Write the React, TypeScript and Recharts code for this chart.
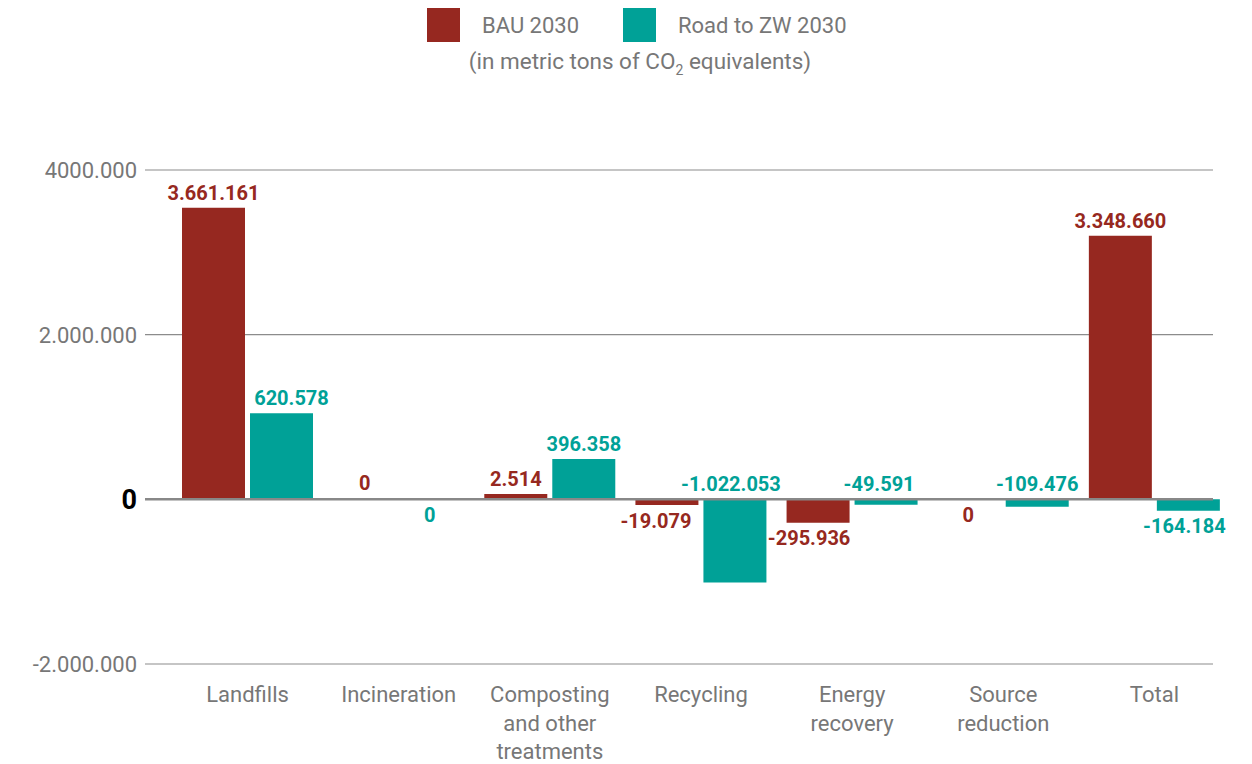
import { BarChart, Bar, XAxis, YAxis, CartesianGrid, LabelList, ReferenceLine } from "recharts";

const CATEGORIES = ["Landfills", "Incineration", "Composting\nand other\ntreatments", "Recycling", "Energy\nrecovery", "Source\nreduction", "Total"];
const BAU_2030 = [3540000, 0, 65000, -70000, -285000, 0, 3200000];
const ZW_2030 = [1045000, 0, 490000, -1010000, -65000, -90000, -140000];
const BAU_LABELS = ["3.661.161", "0", "2.514", "-19.079", "-295.936", "0", "3.348.660"];
const ZW_LABELS = ["620.578", "0", "396.358", "-1.022.053", "-49.591", "-109.476", "-164.184"];
const Y_TICKS = [-2000000, 0, 2000000, 4000000];
const Y_TICK_LABELS = ["-2.000.000", "0", "2.000.000", "4000.000"];

// where each value label sits relative to its bar
const BAU_SIDE = ["top", "top", "top", "bottom", "bottom", "bottom", "top"];
const ZW_SIDE = ["top", "bottom", "top", "top", "top", "top", "bottom"];
const BAU_DX = [0, 0, 0, -11, -9, -1, 0];
const ZW_DX = [10, -3, 0, -4, -7, 0, -4];

const BAU_COLOR = "#962820";
const ZW_COLOR = "#00A197";
const GRAY = "#777777";
const FONT = "Roboto, sans-serif";
const GRID_X = 145;
const GRID_W = 1068;

const data = CATEGORIES.map((name, i) => ({ name, idx: i, bau: BAU_2030[i], zw: ZW_2030[i] }));

// zero values still need a (hidden) rect so their labels get placed
const keepZero = (v: number) => (v === 0 ? 1 : 0);

function makeLabel(texts: string[], sides: string[], shifts: number[], color: string) {
  return (props: any) => {
    const vb = props.viewBox ?? props;
    const x = Number(vb.x ?? props.x);
    const y = Number(vb.y ?? props.y);
    const w = Number(vb.width ?? props.width);
    const h = Number(vb.height ?? props.height);
    const i = Number(props.value);
    const top = Math.min(y, y + h);
    const bottom = Math.max(y, y + h);
    const below = sides[i] === "bottom";
    return (
      <text
        x={x + w / 2 + shifts[i]}
        y={below ? bottom + 22.5 : top - 8}
        textAnchor="middle"
        fill={color}
        fontFamily={FONT}
        fontWeight={700}
        fontSize={20}
      >
        {texts[i]}
      </text>
    );
  };
}

function YTick(props: any) {
  const { x, y, payload } = props;
  const label = Y_TICK_LABELS[Y_TICKS.indexOf(payload.value)];
  const zero = payload.value === 0;
  return (
    <text
      x={x}
      y={y}
      dy={zero ? 9.5 : 8}
      textAnchor="end"
      fill={zero ? "#000" : GRAY}
      fontFamily={FONT}
      fontWeight={zero ? 700 : 400}
      fontSize={zero ? 27 : 22}
    >
      {label}
    </text>
  );
}

function XTick(props: any) {
  const { x, y, payload } = props;
  const lines = String(payload.value).split("\n");
  return (
    <text x={x} y={y + 38} textAnchor="middle" fill={GRAY} fontFamily={FONT} fontSize={22}>
      {lines.map((l, i) => (
        <tspan key={i} x={x} dy={i === 0 ? 0 : 28.5}>
          {l}
        </tspan>
      ))}
    </text>
  );
}

function Header() {
  return (
    <svg width={1252} height={90} style={{ position: "absolute", left: 0, top: 0 }}>
      <rect x={427} y={8} width={33} height={34} fill={BAU_COLOR} />
      <text x={482} y={33} fill={GRAY} fontFamily={FONT} fontSize={22}>BAU 2030</text>
      <rect x={623} y={8} width={33} height={34} fill={ZW_COLOR} />
      <text x={678} y={33} fill={GRAY} fontFamily={FONT} fontSize={22}>Road to ZW 2030</text>
      <text x={640} y={69} textAnchor="middle" fill={GRAY} fontFamily={FONT} fontSize={22.5}>
        (in metric tons of CO
        <tspan fontSize={14} dy={6}>2</tspan>
        <tspan dy={-6}> equivalents)</tspan>
      </text>
    </svg>
  );
}

export default function App() {
  return (
    <div style={{ position: "absolute", left: 0, top: 0, width: 1252, height: 764, background: "#fff" }}>
      <BarChart
        width={1252}
        height={764}
        data={data}
        margin={{ top: 170, right: 22, bottom: 0, left: 0 }}
        barCategoryGap={10}
        barGap={5}
      >
        <CartesianGrid x={GRID_X} width={GRID_W} vertical={false} stroke="#8c8c8c" strokeWidth={1.2} />
        <XAxis
          dataKey="name"
          height={100}
          axisLine={false}
          tickLine={false}
          tickSize={0}
          tickMargin={0}
          interval={0}
          tick={<XTick />}
        />
        <YAxis
          width={172}
          domain={[-2000000, 4000000]}
          ticks={Y_TICKS}
          interval={0}
          axisLine={false}
          tickLine={false}
          tickSize={0}
          tickMargin={35}
          tick={<YTick />}
        />
        <Bar dataKey="bau" name="BAU 2030" fill={BAU_COLOR} minPointSize={keepZero} isAnimationActive={false}>
          <LabelList dataKey="idx" content={makeLabel(BAU_LABELS, BAU_SIDE, BAU_DX, BAU_COLOR)} />
        </Bar>
        <Bar dataKey="zw" name="Road to ZW 2030" fill={ZW_COLOR} minPointSize={keepZero} isAnimationActive={false}>
          <LabelList dataKey="idx" content={makeLabel(ZW_LABELS, ZW_SIDE, ZW_DX, ZW_COLOR)} />
        </Bar>
        <ReferenceLine
          y={0}
          shape={(p: any) => (
            <line x1={GRID_X} x2={GRID_X + GRID_W} y1={p.y1} y2={p.y2} stroke="#888" strokeWidth={2.5} />
          )}
        />
      </BarChart>
      <Header />
    </div>
  );
}
